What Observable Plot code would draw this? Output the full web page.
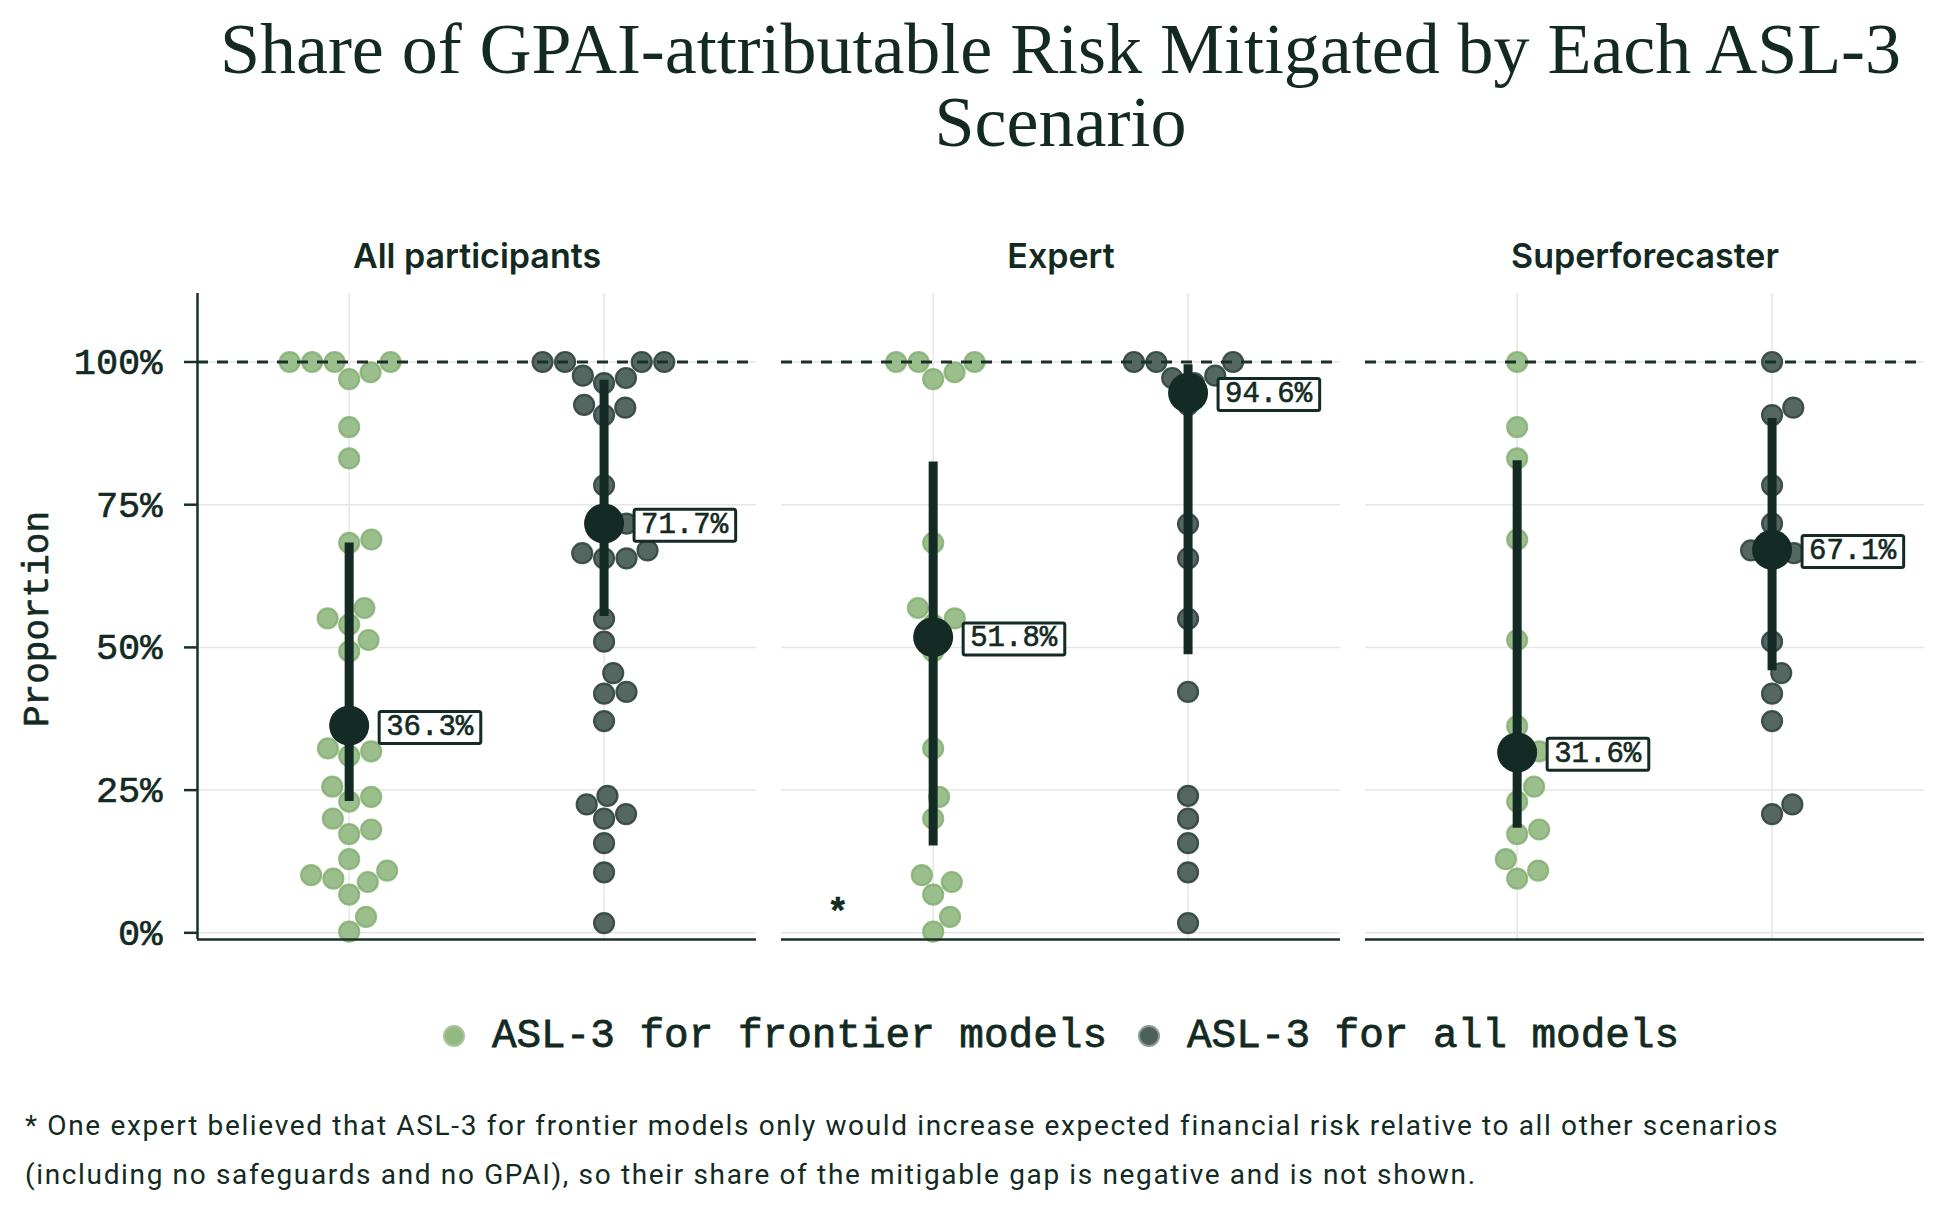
<!DOCTYPE html>
<html>
<head>
<meta charset="utf-8">
<script src="https://cdn.jsdelivr.net/npm/d3@7"></script>
<script src="https://cdn.jsdelivr.net/npm/@observablehq/plot@0.6"></script>
<style>
  html, body { margin: 0; padding: 0; background: #fff; }
  body { width: 1950px; height: 1215px; position: relative; overflow: hidden; color: #132a22; }
  #title { position: absolute; left: 196px; width: 1729px; top: 13px; text-align: center;
           font-family: "Liberation Serif", serif; font-size: 72px; line-height: 73px; white-space: nowrap; }
  #title span { display: inline-block; }
  #chart { position: absolute; left: 0; top: 200px; }
  #chart svg text.mono { stroke: #132a22; stroke-width: 0.6px; }
  #ylabel { position: absolute; left: 38px; top: 619px; transform: translate(-50%, -50%) rotate(-90deg);
            font-family: "Liberation Mono", monospace; font-size: 36px; white-space: nowrap;
            -webkit-text-stroke: 0.6px #132a22; }
  #legend { position: absolute; left: 196px; width: 1729px; top: 1006px; height: 60px;
            display: flex; justify-content: center; align-items: center; gap: 0;
            font-family: "Liberation Mono", monospace; font-size: 41px; white-space: nowrap;
            -webkit-text-stroke: 0.8px #132a22; }
  #legend .item { display: flex; align-items: center; }
  #legend svg { margin-right: 26px; }
  #legend .item + .item { margin-left: 30px; }
  #foot { position: absolute; left: 25px; top: 1101px; font-family: Roboto, sans-serif; font-size: 28px;
          line-height: 49px; white-space: nowrap; }
  #foot span { display: inline-block; }
</style>
</head>
<body>
<div id="title"><span id="t1">Share of GPAI-attributable Risk Mitigated by Each ASL-3</span><br><span id="t2">Scenario</span></div>
<div id="chart"></div>
<div id="ylabel">Proportion</div>
<div id="legend"></div>
<div id="foot"><span id="f1">* One expert believed that ASL-3 for frontier models only would increase expected financial risk relative to all other scenarios</span><br><span id="f2">(including no safeguards and no GPAI), so their share of the mitigable gap is negative and is not shown.</span></div>
<script>
// ---------------- data ----------------
const groups = ["All participants", "Expert", "Superforecaster"];
const scenarios = ["ASL-3 for frontier models", "ASL-3 for all models"];
const scenarioColors = ["#93b983", "#4b6058"];
const scenarioStrokes = ["#7fad6b", "#2f443c"];

// individual forecasts (share of gap mitigated)
const allParticipantsFrontier = [1, 1, 1, 1, 0.982, 0.970, 0.886, 0.831, 0.689, 0.683, 0.569, 0.551, 0.540, 0.513, 0.493, 0.362, 0.323, 0.318, 0.310, 0.256, 0.238, 0.230, 0.200, 0.181, 0.173, 0.129, 0.109, 0.101, 0.095, 0.089, 0.067, 0.028, 0.002];
const allParticipantsAll = [1, 1, 1, 1, 0.976, 0.972, 0.963, 0.925, 0.920, 0.907, 0.784, 0.717, 0.716, 0.670, 0.665, 0.656, 0.656, 0.550, 0.510, 0.455, 0.422, 0.419, 0.371, 0.240, 0.225, 0.208, 0.200, 0.157, 0.106, 0.017];
const expertFrontier = [1, 1, 1, 0.982, 0.970, 0.683, 0.569, 0.551, 0.540, 0.493, 0.323, 0.238, 0.200, 0.101, 0.089, 0.067, 0.028, 0.002];
const expertAll = [1, 1, 1, 0.976, 0.972, 0.963, 0.925, 0.716, 0.656, 0.550, 0.422, 0.240, 0.200, 0.157, 0.106, 0.017];
const superFrontier = [1, 0.886, 0.831, 0.689, 0.513, 0.362, 0.318, 0.310, 0.256, 0.230, 0.181, 0.173, 0.129, 0.109, 0.095];
const superAll = [1, 0.920, 0.907, 0.784, 0.717, 0.670, 0.665, 0.656, 0.510, 0.455, 0.419, 0.371, 0.225, 0.208];

// aggregate estimate and interval per group (frontier, all)
const centralFrontier = [0.363, 0.518, 0.316];
const centralAll = [0.717, 0.946, 0.671];
const lowFrontier = [0.230, 0.152, 0.183];
const highFrontier = [0.683, 0.825, 0.827];
const lowAll = [0.554, 0.487, 0.459];
const highAll = [0.968, 0.995, 0.901];

const yTicks = [0, 0.25, 0.5, 0.75, 1];
const footnoteTarget = { group: "Expert", x: -0.374, y: 0.036 };

// ---------------- layout ----------------
const W = 1950, H = 759;
const mL = 196, mR = 25, mT = 93, mB = 20;
const yDomain = [-0.0117, 1.12];
const xDomain = [-0.595, 1.598];
const padInner = 0.0422;
const ink = "#132a22", dark = "#132b24", spine = "#1b3029";

const step = (W - mL - mR) / (groups.length - padInner);
const bandW = step * (1 - padInner);
const pxPerX = bandW / (xDomain[1] - xDomain[0]);
const pxPerY = (H - mT - mB) / (yDomain[1] - yDomain[0]);

// beeswarm placement (pixel space), converted back to x units
function swarm(values, d) {
  const order = values.map((v, i) => i).sort((a, b) => values[a] - values[b]);
  const placed = [], xs = new Array(values.length);
  for (const i of order) {
    const y = values[i] * pxPerY;
    const near = placed.filter(p => Math.abs(p.y - y) < d);
    const cands = [0];
    for (const p of near) {
      const dx = Math.sqrt(d * d - (p.y - y) ** 2);
      cands.push(p.x + dx, p.x - dx);
    }
    cands.sort((a, b) => Math.abs(a) - Math.abs(b) || b - a);
    let best = cands[cands.length - 1];
    for (const c of cands) {
      if (near.every(p => (p.x - c) ** 2 + (p.y - y) ** 2 >= d * d - 1e-6)) { best = c; break; }
    }
    placed.push({ x: best, y });
    xs[i] = best;
  }
  return xs;
}

const series = [
  [allParticipantsFrontier, allParticipantsAll],
  [expertFrontier, expertAll],
  [superFrontier, superAll]
];
const points = [[], []];
series.forEach((pair, gi) => {
  pair.forEach((vals, si) => {
    const offs = swarm(vals, 22.5);
    vals.forEach((v, k) => points[si].push({ g: groups[gi], v, x: si + offs[k] / pxPerX }));
  });
});

const summary = [];
groups.forEach((g, gi) => {
  summary.push({ g, s: 0, m: centralFrontier[gi], lo: lowFrontier[gi], hi: highFrontier[gi] });
  summary.push({ g, s: 1, m: centralAll[gi], lo: lowAll[gi], hi: highAll[gi] });
});

const fmt = d3.format(".1%");

const chart = Plot.plot({
  width: W, height: H,
  marginLeft: mL, marginRight: mR, marginTop: mT, marginBottom: mB,
  style: { fontFamily: "Liberation Mono, monospace", fontSize: "34px", color: ink, background: "transparent", overflow: "visible" },
  fx: { domain: groups, paddingInner: padInner, paddingOuter: 0, label: null },
  x: { domain: xDomain, axis: null },
  y: { domain: yDomain },
  marks: [
    Plot.gridY(yTicks, { stroke: "#e6e6e6", strokeOpacity: 1, strokeWidth: 1.5 }),
    Plot.gridX([0, 1], { stroke: "#e6e6e6", strokeOpacity: 1, strokeWidth: 1.5 }),
    Plot.dot(points[0], { x: "x", y: "v", fx: "g", r: 10, fill: scenarioColors[0], fillOpacity: 0.92, stroke: scenarioStrokes[0], strokeOpacity: 0.8, strokeWidth: 2.2 }),
    Plot.dot(points[1], { x: "x", y: "v", fx: "g", r: 10, fill: scenarioColors[1], fillOpacity: 0.95, stroke: scenarioStrokes[1], strokeOpacity: 0.9, strokeWidth: 2.2 }),
    Plot.ruleY([1], { stroke: spine, strokeWidth: 3, strokeDasharray: "11,9" }),
    Plot.ruleX(summary, { x: "s", y1: "lo", y2: "hi", fx: "g", stroke: dark, strokeWidth: 9 }),
    Plot.dot(summary, { x: "s", y: "m", fx: "g", r: 20, fill: dark }),
    Plot.text(summary, { x: "s", y: "m", fx: "g", text: d => fmt(d.m), dx: 37, textAnchor: "start", fontSize: 29, fill: ink }),
    Plot.text([footnoteTarget], { x: "x", y: "y", fx: "group", text: () => "*", fontSize: 36, fontWeight: "bold", fill: ink }),
    Plot.axisY({ ticks: yTicks, tickFormat: d3.format(".0%"), tickSize: 13, tickPadding: 22, fontSize: 37, stroke: spine, strokeWidth: 2.5, fill: ink, label: null }),
    Plot.axisFx({ anchor: "top", label: null, tickSize: 0, tickPadding: 26, fontSize: 34, fontFamily: "Inter, sans-serif", fontWeight: 600, fill: ink }),
    Plot.ruleX([{ g: groups[0] }], { x: xDomain[0], fx: "g", stroke: spine, strokeWidth: 2.5 }),
    Plot.ruleY([yDomain[0]], { stroke: spine, strokeWidth: 2.5 })
  ]
});
document.getElementById("chart").appendChild(chart);

// legend
const legend = document.getElementById("legend");
scenarios.forEach((s, i) => {
  const item = document.createElement("div");
  item.className = "item";
  item.innerHTML = `<svg width="24" height="24" viewBox="-12 -12 24 24" style="-webkit-text-stroke:0"><circle r="10" fill="${scenarioColors[i]}" stroke="${i ? "#8c9a94" : "#a9c49c"}" stroke-width="2"/></svg><span>${s}</span>`;
  legend.appendChild(item);
});

function fitWidth(el, target) {
  const w = el.getBoundingClientRect().width;
  const n = el.textContent.length;
  el.style.letterSpacing = ((target - w) / n) + "px";
}

function finish() {
  const ns = "http://www.w3.org/2000/svg";
  // monospace texts slightly heavier
  chart.querySelectorAll('g[aria-label="y-axis tick label"] text, g[aria-label="text"] text').forEach(t => t.classList.add("mono"));
  // boxes behind the value labels
  chart.querySelectorAll('g[aria-label="text"] text').forEach(t => {
    if (!/%$/.test(t.textContent)) return;
    const b = t.getBBox();
    const r = document.createElementNS(ns, "rect");
    r.setAttribute("x", b.x - 7);
    r.setAttribute("y", b.y + 0.5);
    r.setAttribute("width", b.width + 14);
    r.setAttribute("height", b.height - 1);
    r.setAttribute("rx", 2);
    r.setAttribute("fill", "#fff");
    r.setAttribute("stroke", dark);
    r.setAttribute("stroke-width", 3);
    const tr = t.getAttribute("transform");
    if (tr) r.setAttribute("transform", tr);
    t.parentNode.insertBefore(r, t);
  });
  fitWidth(document.getElementById("t1"), 1681);
  fitWidth(document.getElementById("f1"), 1753);
  document.getElementById("f2").style.letterSpacing = document.getElementById("f1").style.letterSpacing;
}
if (document.fonts && document.fonts.ready) document.fonts.ready.then(finish); else finish();
</script>
</body>
</html>
